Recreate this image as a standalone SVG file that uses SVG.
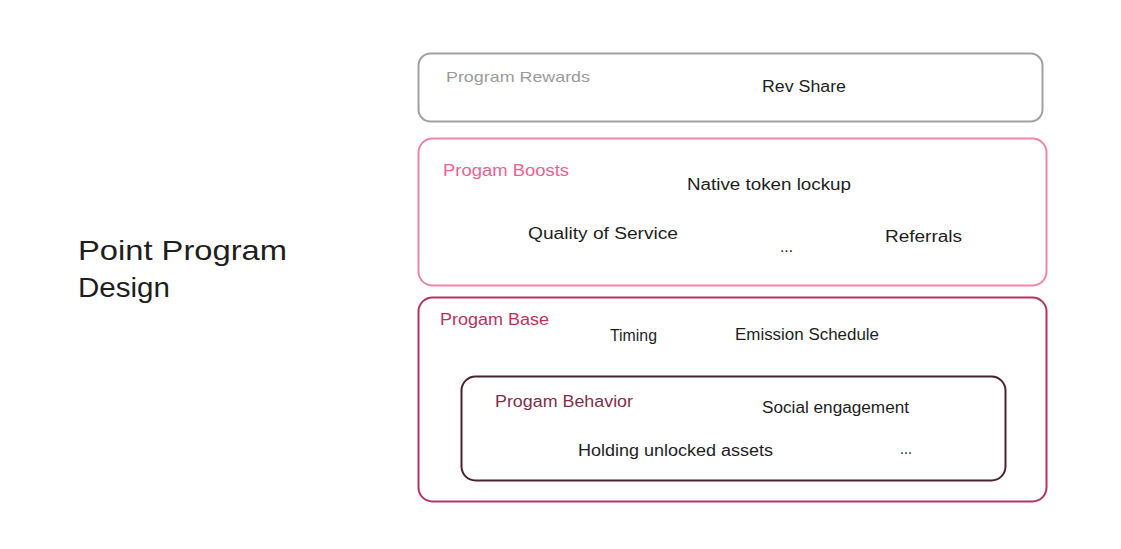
<svg xmlns="http://www.w3.org/2000/svg" width="1121" height="549" viewBox="0 0 1121 549">
<style>
.t{font-family:"Liberation Sans",Arial,sans-serif;font-size:16px;fill:#1e1e1e}
.box{fill:none;stroke-width:2}
</style>
<rect width="1121" height="549" fill="#ffffff"/>
<g id="title">
<text class="t" x="78" y="260" font-size="28" textLength="209" lengthAdjust="spacingAndGlyphs" style="font-size:28px">Point Program</text>
<text class="t" x="78" y="297" textLength="92" lengthAdjust="spacingAndGlyphs" style="font-size:28px">Design</text>
</g>
<g id="rewards">
<rect class="box" x="418.5" y="53.5" width="624" height="68" rx="12" stroke="#a0a0a0"/>
<text class="t" x="446" y="82" textLength="144" lengthAdjust="spacingAndGlyphs" style="fill:#9a9a9a;font-size:15px">Program Rewards</text>
<text class="t" x="762" y="92" textLength="84" lengthAdjust="spacingAndGlyphs">Rev Share</text>
</g>
<g id="boosts">
<rect class="box" x="418.5" y="138.5" width="628" height="147" rx="14" stroke="#f283ab"/>
<text class="t" x="443" y="176" textLength="126" lengthAdjust="spacingAndGlyphs" style="fill:#ef5f92">Progam Boosts</text>
<text class="t" x="687" y="190" textLength="164" lengthAdjust="spacingAndGlyphs">Native token lockup</text>
<text class="t" x="528" y="239" textLength="150" lengthAdjust="spacingAndGlyphs">Quality of Service</text>
<text class="t" x="780" y="252" textLength="13" lengthAdjust="spacingAndGlyphs">...</text>
<text class="t" x="885" y="242" textLength="77" lengthAdjust="spacingAndGlyphs">Referrals</text>
</g>
<g id="base">
<rect class="box" x="418.5" y="297.5" width="628" height="204" rx="14" stroke="#b5345f"/>
<text class="t" x="440" y="325" textLength="109" lengthAdjust="spacingAndGlyphs" style="fill:#c0305e">Progam Base</text>
<text class="t" x="610" y="341" textLength="47" lengthAdjust="spacingAndGlyphs">Timing</text>
<text class="t" x="735" y="340" textLength="144" lengthAdjust="spacingAndGlyphs">Emission Schedule</text>
</g>
<g id="behavior">
<rect class="box" x="461.5" y="376.5" width="544" height="104" rx="14" stroke="#4b2332"/>
<text class="t" x="495" y="407" textLength="138" lengthAdjust="spacingAndGlyphs" style="fill:#7f2f4c">Progam Behavior</text>
<text class="t" x="762" y="413" textLength="147" lengthAdjust="spacingAndGlyphs">Social engagement</text>
<text class="t" x="578" y="456" textLength="195" lengthAdjust="spacingAndGlyphs">Holding unlocked assets</text>
<text class="t" x="900" y="454" textLength="12" lengthAdjust="spacingAndGlyphs">...</text>
</g>
<g id="connectors"></g>
</svg>
